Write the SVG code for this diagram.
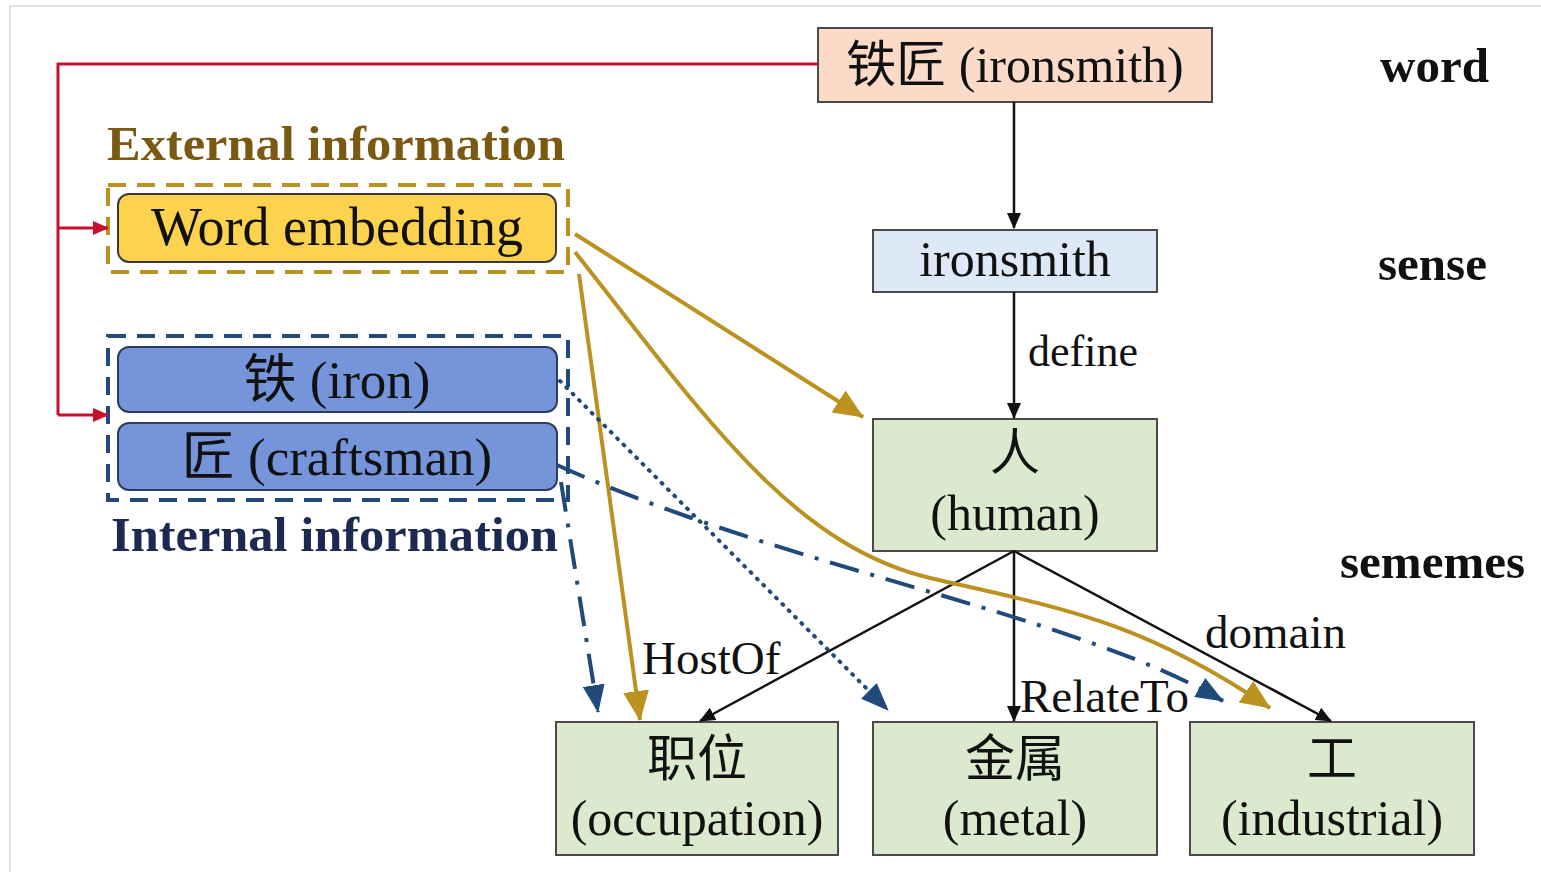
<svg xmlns="http://www.w3.org/2000/svg" width="1541" height="872" viewBox="0 0 1541 872">
<style>
.t{font-family:"Liberation Serif","Noto Sans CJK SC",serif;fill:#111;}
.c{text-anchor:middle;font-size:50px;}
.lbl{font-size:47px;}
.hd{font-size:49px;font-weight:bold;}
.box{stroke:#4a4a4a;stroke-width:2;}
.blk{stroke:#111;stroke-width:2.5;fill:none;}
.gold{stroke:#bb921f;stroke-width:4;fill:none;}
.blue{stroke:#1f4a7a;stroke-width:4;fill:none;}
</style>
<defs>
<marker id="ab" markerUnits="userSpaceOnUse" markerWidth="16" markerHeight="14" refX="15" refY="7" orient="auto"><path d="M0,0 L16,7 L0,14 Z" fill="#111"/></marker>
<marker id="ag" markerUnits="userSpaceOnUse" markerWidth="30" markerHeight="26" refX="29" refY="13" orient="auto"><path d="M0,0 L30,13 L0,26 Z" fill="#bb921f"/></marker>
<marker id="au" markerUnits="userSpaceOnUse" markerWidth="28" markerHeight="22" refX="27" refY="11" orient="auto"><path d="M0,0 L28,11 L0,22 Z" fill="#1f4a7a"/></marker>
<marker id="ar" markerUnits="userSpaceOnUse" markerWidth="16" markerHeight="14" refX="15" refY="7" orient="auto"><path d="M0,0 L16,7 L0,14 Z" fill="#c8102e"/></marker>
</defs>
<rect x="0" y="0" width="1541" height="872" fill="#fff"/>
<path d="M10,872 V6 H1541" fill="none" stroke="#e2e2e2" stroke-width="2"/>

<g id="external-group">
<rect x="108" y="185" width="460" height="87" fill="none" stroke="#bb921f" stroke-width="4" stroke-dasharray="18,11"/>
<text class="t hd" x="107" y="160" textLength="458" lengthAdjust="spacingAndGlyphs" style="fill:#7a5a12">External information</text>
</g>
<g id="word-embedding">
<rect x="118" y="194" width="438" height="68" rx="11" fill="#fdd24e" stroke="#3a3a3a" stroke-width="2"/>
<text class="t c" x="337" y="245" style="font-size:54px">Word embedding</text>
</g>
<g id="internal-group">
<rect x="108" y="336" width="460" height="164" fill="none" stroke="#1f4a7a" stroke-width="4" stroke-dasharray="18,11"/>
<text class="t hd" x="111" y="551" textLength="447" lengthAdjust="spacingAndGlyphs" style="fill:#1c2a52">Internal information</text>
</g>
<g id="iron">
<rect x="118" y="347" width="439" height="65" rx="11" fill="#7694d9" stroke="#2c3e60" stroke-width="2"/>
<text class="t c" x="337" y="398" style="font-size:53px">铁 (iron)</text>
</g>
<g id="craftsman">
<rect x="118" y="423" width="439" height="67" rx="11" fill="#7694d9" stroke="#2c3e60" stroke-width="2"/>
<text class="t c" x="337" y="475" style="font-size:53px">匠 (craftsman)</text>
</g>

<g id="word">
<rect class="box" x="818" y="28" width="394" height="74" fill="#fbdac8"/>
<text class="t c" x="1015" y="82">铁匠 (ironsmith)</text>
</g>
<g id="sense">
<rect class="box" x="873" y="230" width="284" height="62" fill="#dde9f7"/>
<text class="t c" x="1015" y="276">ironsmith</text>
</g>
<g id="human">
<rect class="box" x="873" y="419" width="284" height="132" fill="#dbeacf"/>
<text class="t c" x="1015" y="470">人</text>
<text class="t c" x="1015" y="530">(human)</text>
</g>
<g id="occupation">
<rect class="box" x="556" y="722" width="282" height="133" fill="#dbeacf"/>
<text class="t c" x="697" y="776">职位</text>
<text class="t c" x="697" y="835">(occupation)</text>
</g>
<g id="metal">
<rect class="box" x="873" y="722" width="284" height="133" fill="#dbeacf"/>
<text class="t c" x="1015" y="776">金属</text>
<text class="t c" x="1015" y="835">(metal)</text>
</g>
<g id="industrial">
<rect class="box" x="1190" y="722" width="284" height="133" fill="#dbeacf"/>
<text class="t c" x="1332" y="776">工</text>
<text class="t c" x="1332" y="835">(industrial)</text>
</g>

<g id="level-labels">
<text class="t hd" x="1380" y="82">word</text>
<text class="t hd" x="1378" y="280">sense</text>
<text class="t hd" x="1340" y="578">sememes</text>
</g>

<g id="connectors">
<path d="M818,64 H58 V415" fill="none" stroke="#c8102e" stroke-width="3"/>
<path d="M58,228 H108" fill="none" stroke="#c8102e" stroke-width="3" marker-end="url(#ar)"/>
<path d="M58,415 H108" fill="none" stroke="#c8102e" stroke-width="3" marker-end="url(#ar)"/>

<path class="blk" d="M1014,102 V228" marker-end="url(#ab)"/>
<path class="blk" d="M1014,292 V418" marker-end="url(#ab)"/>
<path class="blk" d="M1014,551 L700,721" marker-end="url(#ab)"/>
<path class="blk" d="M1014,551 V721" marker-end="url(#ab)"/>
<path class="blk" d="M1014,551 L1331,721" marker-end="url(#ab)"/>

<path class="gold" d="M575,234 L863,417" marker-end="url(#ag)"/>
<path class="gold" d="M575,252 C700,410 790,545 930,578 C1060,608 1140,620 1270,708" marker-end="url(#ag)"/>
<path class="gold" d="M579,274 L640,720" marker-end="url(#ag)"/>

<path class="blue" d="M560,381 L888,710" stroke-width="4" stroke-dasharray="1,8" stroke-linecap="round" marker-end="url(#au)"/>
<path class="blue" d="M557,465 C790,570 1070,612 1223,701" stroke-dasharray="30,12,4,12" marker-end="url(#au)"/>
<path class="blue" d="M561,482 L598,712" stroke-dasharray="30,12,4,12" marker-end="url(#au)"/>

<text class="t lbl" x="1028" y="366" style="font-size:44px">define</text>
<text class="t lbl" x="642" y="674">HostOf</text>
<text class="t lbl" x="1020" y="712">RelateTo</text>
<text class="t lbl" x="1205" y="648">domain</text>
</g>
</svg>
